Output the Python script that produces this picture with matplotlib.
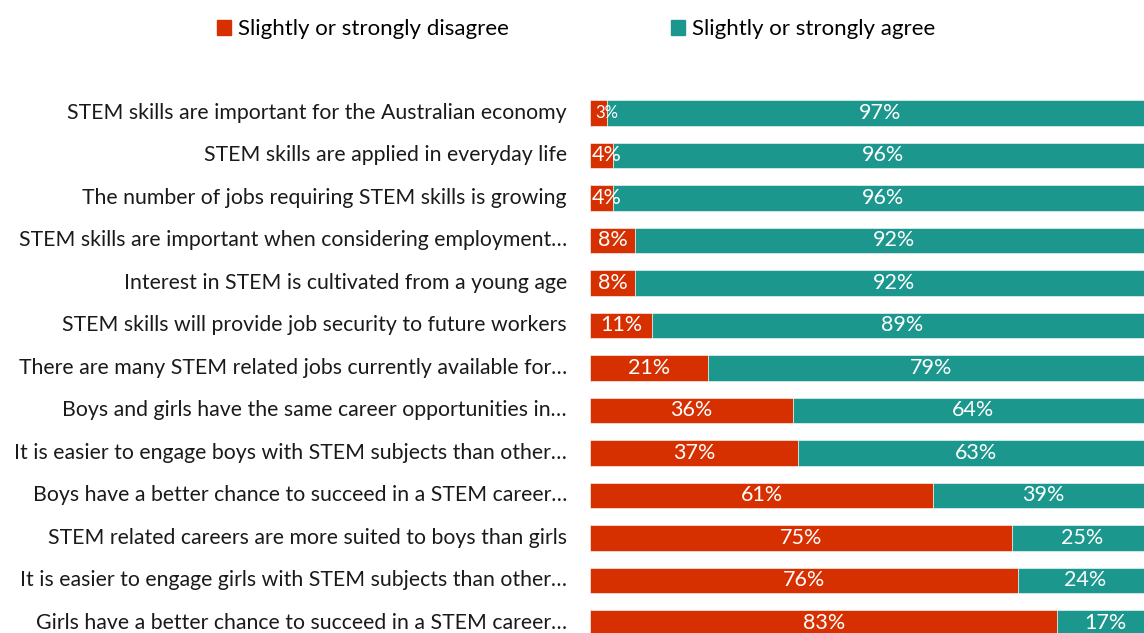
import numpy as np
import matplotlib.pyplot as plt
from matplotlib.patches import Patch

statements = [
    'STEM skills are important for the Australian economy',
    'STEM skills are applied in everyday life',
    'The number of jobs requiring STEM skills is growing',
    'STEM skills are important when considering employment…',
    'Interest in STEM is cultivated from a young age',
    'STEM skills will provide job security to future workers',
    'There are many STEM related jobs currently available for…',
    'Boys and girls have the same career opportunities in…',
    'It is easier to engage boys with STEM subjects than other…',
    'Boys have a better chance to succeed in a STEM career…',
    'STEM related careers are more suited to boys than girls',
    'It is easier to engage girls with STEM subjects than other…',
    'Girls have a better chance to succeed in a STEM career…',
]
disagree = [3, 4, 4, 8, 8, 11, 21, 36, 37, 61, 75, 76, 83]
agree = [97, 96, 96, 92, 92, 89, 79, 64, 63, 39, 25, 24, 17]

red = '#D73000'
teal = '#1B978D'
font = ['Lato', 'DejaVu Sans']
plt.rcParams['font.family'] = font

W, H = 1144, 633
fig = plt.figure(figsize=(W / 100, H / 100), dpi=100)
# axes placed in pixel terms: bars start at x=590, 100% lands at ~1153 (past the edge)
ax = fig.add_axes([590 / W, 0, 563 / W, (H - 90) / H])

y = np.arange(len(statements))
d = np.array(disagree) / 100
a = np.array(agree) / 100
ax.barh(y, d, height=0.59, color=red, edgecolor='white', linewidth=0.4)
ax.barh(y, a, left=d, height=0.59, color=teal, edgecolor='white', linewidth=0.4)

ax.set_xlim(0, 1)
ax.set_ylim((H - 113) / 42.5, -0.541)
ax.axis('off')

for i in y:
    # tiny segments: label sits a bit right of the segment centre, like Excel does
    xd = max(d[i] / 2, 0.03)
    fs = 12 if disagree[i] < 4 else 15.5
    ax.text(xd, i, f'{disagree[i]}%', ha='center', va='center',
            color='white', fontsize=fs)
    ax.text(d[i] + a[i] / 2, i, f'{agree[i]}%', ha='center', va='center',
            color='white', fontsize=15.5)
    ax.text(-0.041, i, statements[i], ha='right', va='center',
            color='#1a1a1a', fontsize=15.3)

handles = [Patch(color=red, label='Slightly or strongly disagree'),
           Patch(color=teal, label='Slightly or strongly agree')]
fig.legend(handles=handles, loc='center', bbox_to_anchor=(576 / W, 1 - 29 / H),
           ncol=2, frameon=False, fontsize=16, handlelength=0.65,
           handleheight=0.65, handletextpad=0.3, columnspacing=7.3)

fig.savefig('out.png', dpi=100)
